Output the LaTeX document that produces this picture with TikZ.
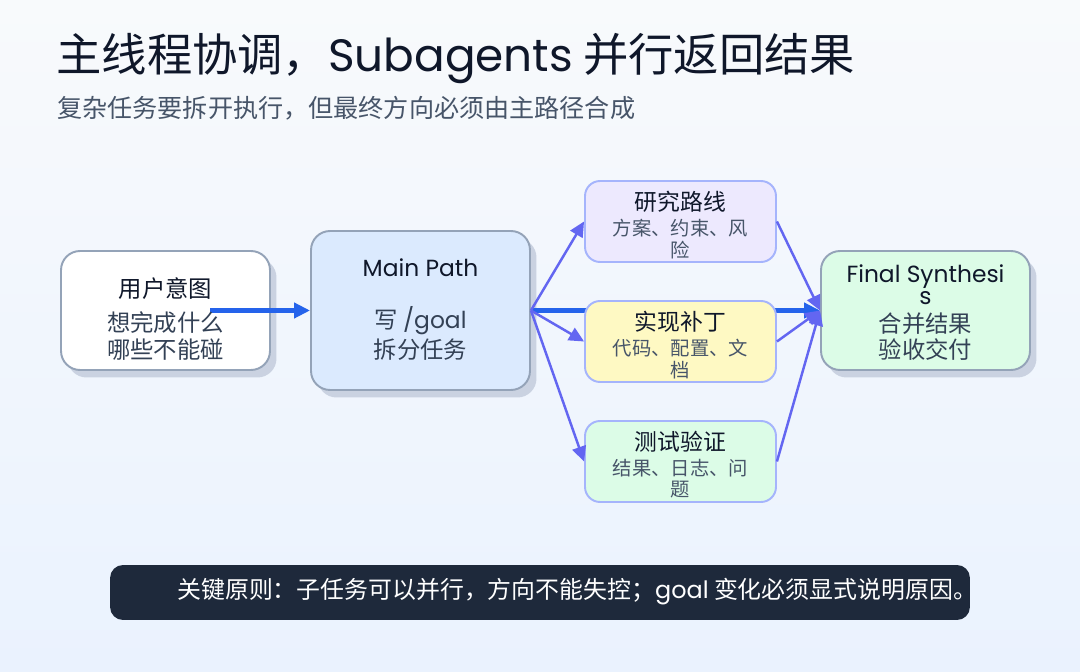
\documentclass[tikz,border=0pt]{standalone}
\usepackage{fontspec}
\setmainfont{Noto Sans CJK SC}
\newfontfamily\lat{Poppins}
\usetikzlibrary{arrows.meta,shadows}

\definecolor{ink}{HTML}{0F172A}
\definecolor{subink}{HTML}{475569}
\definecolor{bodyink}{HTML}{334155}
\definecolor{frame}{HTML}{94A3B8}
\definecolor{softframe}{HTML}{A5B4FC}
\definecolor{shade}{HTML}{CAD2E1}
\definecolor{flow}{HTML}{2563EB}
\definecolor{branch}{HTML}{6366F1}
\definecolor{banner}{HTML}{1E293B}
\definecolor{fillwhite}{HTML}{FFFFFF}
\definecolor{fillblue}{HTML}{DBEAFE}
\definecolor{fillviolet}{HTML}{EDE9FE}
\definecolor{fillyellow}{HTML}{FEF9C3}
\definecolor{fillgreen}{HTML}{DCFCE7}
\definecolor{pagetop}{HTML}{F8FAFC}
\definecolor{pagebottom}{HTML}{EAF2FE}

\tikzset{
  bigbox/.style={draw=frame, line width=1.1pt, rounded corners=0.38cm,
    inner sep=0pt,
    drop shadow={shadow xshift=0.13cm, shadow yshift=-0.15cm, fill=shade, opacity=1}},
  smallbox/.style={draw=softframe, line width=1.1pt, rounded corners=0.3cm,
    inner sep=0pt, minimum width=3.82cm, minimum height=1.62cm},
  headtext/.style={inner sep=0pt, text=ink, font=\fontsize{13.3pt}{16pt}\selectfont},
  bodytext/.style={inner sep=0pt, text=bodyink, font=\fontsize{13.3pt}{16pt}\selectfont},
  smallhead/.style={inner sep=0pt, text=ink, font=\fontsize{13pt}{16pt}\selectfont},
  smallbody/.style={inner sep=0pt, text=subink, font=\fontsize{11pt}{13pt}\selectfont},
  flowarrow/.style={draw=flow, line width=2.3pt, -{Triangle[length=0.32cm,width=0.3cm]}},
  brancharrow/.style={draw=branch, line width=1.4pt, -{Triangle[length=0.3cm,width=0.28cm]}},
}

\begin{document}
\begin{tikzpicture}[x=0.02cm, y=-0.02cm]
  % page background
  \shade[top color=pagetop, bottom color=pagebottom]
    (0,0) rectangle (1080,672);
  \useasboundingbox (0,0) rectangle (1080,672);

  % heading
  \node[anchor=west, inner sep=0pt, text=ink, font=\fontsize{25.8pt}{30pt}\selectfont]
    (title) at (56,59) {主线程协调，{\lat Subagents} 并行返回结果};
  \node[anchor=west, inner sep=0pt, text=subink, font=\fontsize{14.3pt}{17pt}\selectfont]
    (subtitle) at (57,108) {复杂任务要拆开执行，但最终方向必须由主路径合成};

  % main boxes
  \node[bigbox, fill=fillwhite, minimum width=4.18cm, minimum height=2.38cm]
    (user) at (165.5,310.5) {};
  \node[bigbox, fill=fillblue, minimum width=4.38cm, minimum height=3.18cm]
    (main) at (420.5,310.5) {};
  \node[bigbox, fill=fillgreen, minimum width=4.18cm, minimum height=2.38cm]
    (final) at (925.5,310.5) {};

  % connectors
  \coordinate (userout) at (210,310.5);
  \draw[flowarrow] (userout) -- (main.west);
  \draw[flowarrow] (main.east) -- (final.west);

  % parallel branches
  \node[smallbox, fill=fillviolet] (research) at (680.5,221.5) {};
  \node[smallbox, fill=fillyellow] (patch) at (680.5,341.5) {};
  \node[smallbox, fill=fillgreen] (test) at (680.5,461.5) {};

  \foreach \b in {research,patch,test}{
    \draw[brancharrow] (main.east) -- (\b.west);
    \draw[brancharrow] (\b.east) -- (final.west);
  }

  % box texts
  \node[headtext] (userhead) at (165.5,289) {用户意图};
  \node[bodytext] (userl1) at (165.5,323) {想完成什么};
  \node[bodytext] (userl2) at (165.5,350) {哪些不能碰};

  \node[headtext] (mainhead) at (420.5,268) {\lat Main Path};
  \node[bodytext] (mainl1) at (420.5,321) {写 {\lat /goal}};
  \node[bodytext] (mainl2) at (420.5,350) {拆分任务};

  \node[headtext] (finalhead) at (925.5,277) {\lat Final Synthesi};
  \node[headtext] (finalwrap) at (925.5,298) {\lat s};
  \node[bodytext] (finall1) at (925.5,324) {合并结果};
  \node[bodytext] (finall2) at (925.5,350) {验收交付};

  \node[smallhead] (reshead) at (680.5,202) {研究路线};
  \node[smallbody] (resl1) at (680.5,228) {方案、约束、风};
  \node[smallbody] (resl2) at (680.5,250) {险};

  \node[smallhead] (pathead) at (680.5,322) {实现补丁};
  \node[smallbody] (patl1) at (680.5,348) {代码、配置、文};
  \node[smallbody] (patl2) at (680.5,370) {档};

  \node[smallhead] (testhead) at (680.5,442) {测试验证};
  \node[smallbody] (testl1) at (680.5,468) {结果、日志、问};
  \node[smallbody] (testl2) at (680.5,490) {题};

  % principle banner
  \node[fill=banner, rounded corners=0.26cm, minimum width=17.2cm, minimum height=1.1cm,
    inner sep=0pt] (banner) at (540,592.5) {};
  \node[anchor=west, inner sep=0pt, text=white, font=\fontsize{13.6pt}{16pt}\selectfont]
    (bannertext) at (177,592) {关键原则：子任务可以并行，方向不能失控；{\lat goal} 变化必须显式说明原因。};
\end{tikzpicture}
\end{document}
